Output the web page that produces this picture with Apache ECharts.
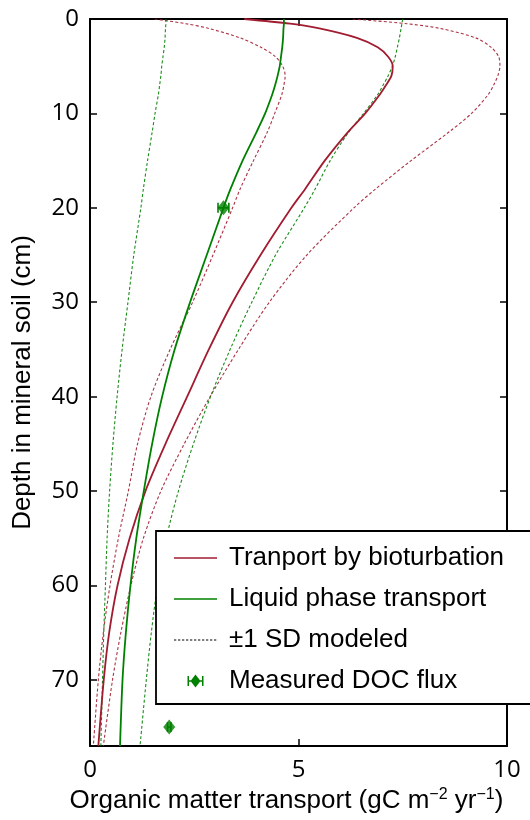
<!DOCTYPE html>
<html>
<head>
<meta charset="utf-8">
<script src="https://cdn.jsdelivr.net/npm/echarts@6/dist/echarts.min.js"></script>
<style>
  html, body { margin: 0; padding: 0; background: #fff; }
  #chart { width: 530px; height: 820px; }
</style>
</head>
<body>
<div id="chart"></div>
<script>
// Depth in mineral soil (cm) shared by all modeled profiles
const depth = [0, 0.5, 1, 2, 3, 4, 5, 6, 7, 8, 10, 12, 15, 18, 20, 25, 30, 35, 40, 45, 50, 55, 60, 65, 70, 77];

// Transport by bioturbation (gC m-2 yr-1): mean and ±1 SD
const bioMean = [3.7, 4.8, 5.5, 6.4, 6.9, 7.15, 7.26, 7.23, 7.1, 6.95, 6.6, 6.18, 5.63, 5.16, 4.83, 4.09, 3.42, 2.85, 2.33, 1.81, 1.33, 0.95, 0.66, 0.46, 0.33, 0.2];
const bioLow  = [1.55, 2.3, 2.85, 3.6, 4.1, 4.45, 4.62, 4.68, 4.65, 4.6, 4.43, 4.25, 3.92, 3.6, 3.42, 2.95, 2.46, 1.92, 1.46, 1.14, 0.92, 0.68, 0.48, 0.32, 0.2, 0.08];
const bioHigh = [6.3, 7.6, 8.4, 9.25, 9.62, 9.8, 9.83, 9.78, 9.68, 9.55, 9.15, 8.6, 7.7, 6.85, 6.33, 5.2, 4.3, 3.56, 2.88, 2.26, 1.7, 1.28, 0.98, 0.74, 0.54, 0.32];

// Liquid phase transport (gC m-2 yr-1): mean and ±1 SD
const liqMean = [4.65, 4.65, 4.64, 4.63, 4.61, 4.58, 4.55, 4.5, 4.44, 4.37, 4.2, 3.99, 3.66, 3.37, 3.2, 2.8, 2.4, 2.03, 1.73, 1.49, 1.29, 1.11, 0.97, 0.86, 0.78, 0.72];
const liqLow  = [1.82, 1.82, 1.81, 1.8, 1.78, 1.75, 1.72, 1.7, 1.67, 1.64, 1.56, 1.49, 1.38, 1.28, 1.22, 1.05, 0.91, 0.77, 0.65, 0.55, 0.47, 0.41, 0.37, 0.33, 0.3, 0.26];
const liqHigh = [7.5, 7.48, 7.46, 7.42, 7.37, 7.32, 7.25, 7.15, 7.03, 6.9, 6.56, 6.2, 5.76, 5.4, 5.14, 4.45, 3.88, 3.36, 2.89, 2.48, 2.12, 1.83, 1.62, 1.47, 1.35, 1.2];

// Measured DOC flux with horizontal error
const docDepth = [20, 75];
const docFlux  = [3.2, 1.9];
const docErr   = [0.13, 0.04];

// Axis ticks
const xTicks = [0, 5, 10];
const yTicks = [0, 10, 20, 30, 40, 50, 60, 70];
const depthMax = 77;

const RED = '#a11c30';
const GREEN = '#008000';

const profile = xs => xs.map((v, i) => [v, depth[i]]);

// Legend icons drawn in a 50x16 box (first two moves pin the box size)
const BOX = 'M0,0M50,16';
const iconLine = 'path://' + BOX + 'M0,7.2H43V8.8H0Z';
let dashPath = BOX;
for (let x = 0; x < 43; x += 4) {
  dashPath += 'M' + x + ',7.5H' + Math.min(x + 2.3, 43) + 'V8.5H' + x + 'Z';
}
const iconDash = 'path://' + dashPath;
const iconErr = 'path://' + BOX +
  'M13.5,3H15V13H13.5Z' +
  'M28,3H29.5V13H28Z' +
  'M15,7.3H28V8.7H15Z' +
  'M21.5,1.5L26.5,8L21.5,14.5L16.5,8Z';

const solid = (name, data, color) => ({
  name, type: 'line', data: profile(data), smooth: 0.3, symbol: 'none',
  lineStyle: { color, width: 1.8 }, itemStyle: { color }, z: 3
});
const dashed = (data, color) => ({
  type: 'line', data: profile(data), smooth: 0.3, symbol: 'none',
  lineStyle: { color, width: 1.1, type: [3, 2.2], opacity: 0.9 }, itemStyle: { color }, z: 2
});

const axisFont = { fontFamily: 'Open Sans', fontSize: 24, color: '#000' };
const titleFont = { fontFamily: 'Liberation Sans', fontSize: 26, color: '#000' };
const frameLine = { show: true, onZero: false, lineStyle: { color: '#000', width: 2 } };
const inTick = { show: true, inside: true, length: 7, lineStyle: { color: '#000', width: 1.5 } };

const chart = echarts.init(document.getElementById('chart'), null, { renderer: 'canvas' });

chart.setOption({
  animation: false,
  backgroundColor: '#fff',
  grid: { left: 90, right: 23, top: 19, bottom: 74, containLabel: false },
  xAxis: [
    {
      type: 'value', min: xTicks[0], max: xTicks[xTicks.length - 1], interval: xTicks[1] - xTicks[0],
      position: 'bottom',
      axisLine: frameLine, axisTick: inTick, splitLine: { show: false },
      axisLabel: { ...axisFont, margin: 12 },
      name: 'Organic matter transport (gC m{sup|\u22122} yr{sup|\u22121})',
      nameLocation: 'middle', nameGap: 41,
      nameTextStyle: {
        ...titleFont, padding: [0, 24, 0, 0],
        rich: { sup: { fontFamily: 'Liberation Sans', fontSize: 16, color: '#000', padding: [0, 0, 12, 0] } }
      }
    },
    {
      type: 'value', min: xTicks[0], max: xTicks[xTicks.length - 1], interval: xTicks[1] - xTicks[0],
      position: 'top',
      axisLine: frameLine, axisTick: inTick, splitLine: { show: false }, axisLabel: { show: false }
    }
  ],
  yAxis: [
    {
      type: 'value', inverse: true, min: 0, max: depthMax, interval: yTicks[1] - yTicks[0],
      position: 'left',
      axisLine: frameLine, axisTick: inTick, splitLine: { show: false },
      axisLabel: { ...axisFont, margin: 11, showMaxLabel: false,
        formatter: v => (yTicks.indexOf(v) >= 0 ? String(v) : '') },
      name: 'Depth in mineral soil (cm)',
      nameLocation: 'middle', nameGap: 54, nameRotate: 90,
      nameTextStyle: { ...titleFont }
    },
    {
      type: 'value', inverse: true, min: 0, max: depthMax, interval: yTicks[1] - yTicks[0],
      position: 'right',
      axisLine: frameLine, axisTick: inTick, splitLine: { show: false }, axisLabel: { show: false }
    }
  ],
  legend: {
    orient: 'vertical', left: 156, top: 531,
    padding: [12, 60, 8, 18], itemGap: 11,
    itemWidth: 50, itemHeight: 16,
    backgroundColor: '#fff', borderColor: '#000', borderWidth: 1.8, borderRadius: 0,
    selectedMode: false,
    itemStyle: { borderWidth: 0 },
    textStyle: { fontFamily: 'Liberation Sans', fontSize: 26, color: '#000', lineHeight: 30 },
    data: [
      { name: 'Tranport by bioturbation', icon: iconLine, itemStyle: { color: RED, borderWidth: 0 } },
      { name: 'Liquid phase transport', icon: iconLine, itemStyle: { color: GREEN, borderWidth: 0 } },
      { name: '\u00b11 SD modeled', icon: iconDash, itemStyle: { color: '#000', borderWidth: 0 } },
      { name: 'Measured DOC flux', icon: iconErr, itemStyle: { color: GREEN, borderWidth: 0 } }
    ]
  },
  series: [
    dashed(bioLow, RED),
    dashed(bioHigh, RED),
    dashed(liqLow, GREEN),
    dashed(liqHigh, GREEN),
    solid('Tranport by bioturbation', bioMean, RED),
    solid('Liquid phase transport', liqMean, GREEN),
    { name: '\u00b11 SD modeled', type: 'line', data: [], symbol: 'none',
      lineStyle: { color: '#000', width: 1, type: [3, 2] }, itemStyle: { color: '#000' } },
    {
      type: 'custom', name: 'Measured DOC flux',
      data: docFlux.map((v, i) => [v, docDepth[i], docErr[i]]),
      itemStyle: { color: GREEN }, z: 4,
      renderItem: (params, api) => {
        const x = api.value(0), y = api.value(1), e = api.value(2);
        const l = api.coord([x - e, y]);
        const r = api.coord([x + e, y]);
        const h = 5;
        const st = { stroke: GREEN, lineWidth: 1.6 };
        return {
          type: 'group',
          children: [
            { type: 'line', shape: { x1: l[0], y1: l[1], x2: r[0], y2: r[1] }, style: st },
            { type: 'line', shape: { x1: l[0], y1: l[1] - h, x2: l[0], y2: l[1] + h }, style: st },
            { type: 'line', shape: { x1: r[0], y1: r[1] - h, x2: r[0], y2: r[1] + h }, style: st }
          ]
        };
      }
    },
    {
      type: 'scatter', name: 'Measured DOC flux',
      data: docFlux.map((v, i) => [v, docDepth[i]]),
      symbol: 'diamond', symbolSize: [12, 15],
      itemStyle: { color: GREEN }, z: 5
    }
  ]
});
</script>
</body>
</html>
